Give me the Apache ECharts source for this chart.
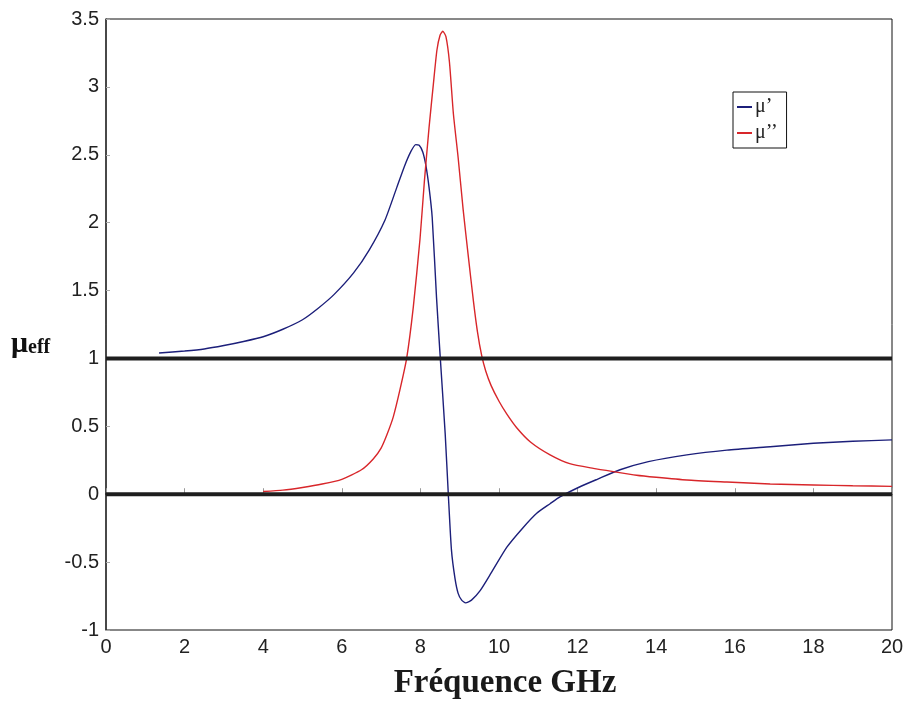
<!DOCTYPE html>
<html>
<head>
<meta charset="utf-8">
<title>μeff</title>
<script src="https://cdn.jsdelivr.net/npm/echarts/dist/echarts.min.js"></script>
<style>
  html, body { margin: 0; padding: 0; background: #fff; }
  #chart { width: 909px; height: 704px; }
</style>
</head>
<body>
<div id="chart"></div>
<script>
// μ' (partie réelle) : fréquence GHz / valeur
var freqReal = [1.35, 2.0, 2.5, 3.0, 3.5, 4.0, 4.5, 5.0, 5.4, 5.8, 6.3, 6.7, 7.1, 7.4, 7.6, 7.75, 7.88, 7.97,
  8.06, 8.14, 8.22, 8.3, 8.41, 8.5, 8.63, 8.71, 8.79, 8.88, 8.96, 9.05, 9.15, 9.3, 9.52, 9.8, 10.2, 10.6,
  10.96, 11.3, 11.55, 12.06, 12.5, 13.08, 13.8, 14.78, 15.8, 16.9, 18.0, 19.0, 20];
var muReal = [1.04, 1.055, 1.07, 1.095, 1.125, 1.16, 1.215, 1.285, 1.37, 1.47, 1.63, 1.8, 2.02, 2.26, 2.42, 2.52, 2.575, 2.57,
  2.52, 2.42, 2.26, 2.04, 1.45, 1.03, 0.45, 0.0, -0.41, -0.62, -0.73, -0.78, -0.8, -0.78, -0.71, -0.58, -0.39, -0.25,
  -0.14, -0.07, -0.02, 0.055, 0.11, 0.18, 0.24, 0.29, 0.325, 0.35, 0.375, 0.39, 0.4];

// μ'' (partie imaginaire)
var freqImag = [4.0, 4.5, 5.0, 5.5, 6.0, 6.5, 6.8, 7.0, 7.15, 7.31, 7.48, 7.65, 7.82, 7.99, 8.1, 8.22, 8.33, 8.42,
  8.5, 8.57, 8.65, 8.74, 8.84, 8.96, 9.09, 9.22, 9.35, 9.45, 9.56, 9.66, 9.8, 10.0, 10.2, 10.45, 10.8,
  11.3, 11.8, 12.4, 12.91, 13.5, 14.0, 14.78, 15.8, 16.9, 18.0, 19.0, 20];
var muImag = [0.02, 0.03, 0.05, 0.075, 0.11, 0.18, 0.26, 0.34, 0.44, 0.57, 0.77, 1.0, 1.38, 1.88, 2.3, 2.7, 3.02, 3.27,
  3.38, 3.41, 3.37, 3.18, 2.8, 2.48, 2.09, 1.75, 1.42, 1.2, 1.02, 0.91, 0.8, 0.685, 0.59, 0.49, 0.385,
  0.29, 0.225, 0.19, 0.166, 0.14, 0.125, 0.105, 0.09, 0.075, 0.068, 0.062, 0.058];

// lignes de référence épaisses
var refLevels = [1, 0];

function pairs(xs, ys) {
  var out = [];
  for (var i = 0; i < xs.length; i++) out.push([xs[i], ys[i]]);
  return out;
}

var chart = echarts.init(document.getElementById('chart'));

var series = [
  {
    name: 'μ’',
    type: 'line',
    data: pairs(freqReal, muReal),
    showSymbol: false,
    smooth: 0.2,
    lineStyle: { color: '#1c1f7a', width: 1.4 },
    itemStyle: { color: '#1c1f7a' },
    z: 2
  },
  {
    name: 'μ’’',
    type: 'line',
    data: pairs(freqImag, muImag),
    showSymbol: false,
    smooth: 0.2,
    lineStyle: { color: '#d8262a', width: 1.4 },
    itemStyle: { color: '#d8262a' },
    z: 2
  }
];

refLevels.forEach(function (lv) {
  series.push({
    name: 'ref' + lv,
    type: 'line',
    data: [[0, lv], [20, lv]],
    showSymbol: false,
    silent: true,
    lineStyle: { color: '#1e1e1e', width: 4 },
    z: 3
  });
});

chart.setOption({
  backgroundColor: '#fff',
  animation: false,
  grid: {
    left: 106, top: 19, right: 17, bottom: 74,
    show: true, borderColor: '#111', borderWidth: 1
  },
  legend: {
    data: ['μ’', 'μ’’'],
    orient: 'vertical',
    left: 733, top: 92,
    padding: [5, 9, 5, 4],
    itemGap: 6,
    itemWidth: 15,
    itemHeight: 2,
    icon: 'rect',
    borderColor: '#111',
    borderWidth: 1,
    backgroundColor: '#fff',
    textStyle: { fontFamily: 'Liberation Serif', fontSize: 20, color: '#222', padding: [0, 0, 0, -2] }
  },
  xAxis: {
    type: 'value',
    min: 0, max: 20, interval: 2,
    axisLine: { show: true, lineStyle: { color: '#111', width: 1.5 } },
    axisTick: { show: true, inside: true, length: 6, lineStyle: { color: '#999' } },
    splitLine: { show: false },
    axisLabel: { fontFamily: 'Liberation Sans', fontSize: 20, color: '#222', margin: 7 }
  },
  yAxis: {
    type: 'value',
    min: -1, max: 3.5, interval: 0.5,
    axisLine: { show: true, lineStyle: { color: '#333', width: 1.5 } },
    axisTick: { show: true, inside: true, length: 4, lineStyle: { color: '#aaa' } },
    splitLine: { show: false },
    axisLabel: { fontFamily: 'Liberation Sans', fontSize: 20, color: '#222', margin: 7 }
  },
  graphic: [
    {
      type: 'text',
      left: 11, top: 329,
      style: {
        text: '{m|μ}{s|eff}',
        rich: {
          m: { fontFamily: 'Liberation Serif', fontWeight: 'bold', fontSize: 30, fill: '#111' },
          s: { fontFamily: 'Liberation Serif', fontWeight: 'bold', fontSize: 20, fill: '#111', padding: [8, 0, 0, 0] }
        }
      }
    },
    {
      type: 'text',
      x: 505, y: 683,
      style: {
        text: 'Fréquence GHz',
        fontFamily: 'Liberation Serif', fontWeight: 'bold', fontSize: 33, fill: '#1a1a1a',
        align: 'center', verticalAlign: 'middle'
      }
    }
  ],
  series: series
});
</script>
</body>
</html>
